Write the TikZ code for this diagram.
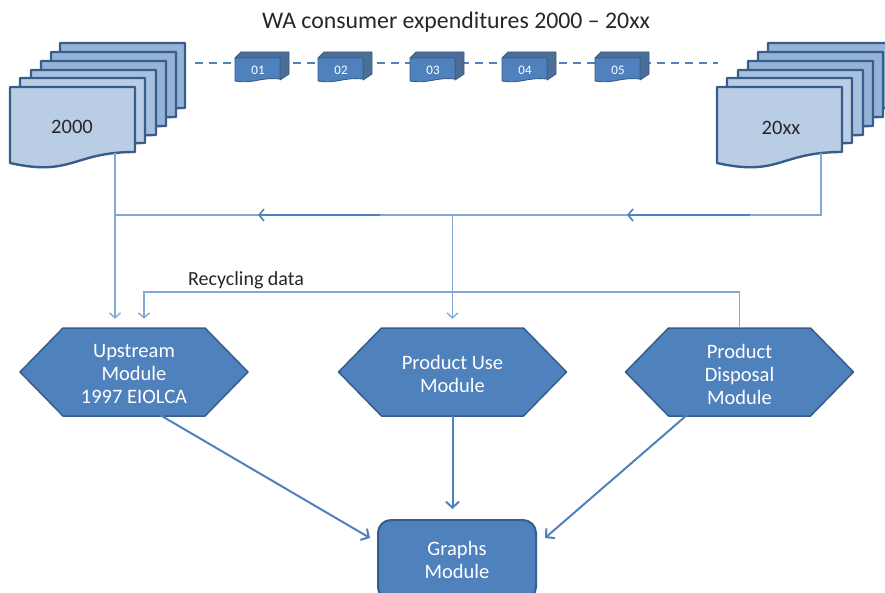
\documentclass[tikz,border=0pt]{standalone}
\usepackage{fontspec}
\setmainfont{Carlito}
\usetikzlibrary{arrows.meta}
\definecolor{docA}{HTML}{B9CDE5}
\definecolor{docB}{HTML}{A7C0DE}
\definecolor{docC}{HTML}{95B3D7}
\definecolor{edge}{HTML}{385D8A}
\definecolor{main}{HTML}{4F81BD}
\definecolor{thinc}{HTML}{86A7D6}
\tikzset{
  docbox/.style={draw=edge, line width=2.4pt, line join=round},
  hexbox/.style={draw=edge, fill=main, line width=1.5pt, line join=round},
  hexarea/.style={minimum width=228pt, minimum height=88pt, inner sep=0pt},
  hextext/.style={text=white, font=\fontsize{20.5}{23}\selectfont, align=center},
  doclabel/.style={font=\fontsize{20.5}{23}\selectfont, text=black!85},
  numlabel/.style={text=white, font=\fontsize{13}{14}\selectfont, inner sep=0pt},
  thinline/.style={draw=thinc, line width=1.4pt},
  flow/.style={thinline, -{Straight Barb[length=5pt,width=11pt,line width=1.4pt]}},
  midflow/.style={draw=main, line width=2pt, -{Straight Barb[length=5pt,width=12pt,line width=1.6pt]}},
  bigflow/.style={draw=main, line width=2pt, -{Straight Barb[length=6pt,width=13pt,line width=2pt]}},
  dashline/.style={draw=main, line width=1.6pt, dash pattern=on 8pt off 6pt},
  graphsbox/.style={draw=edge, fill=main, line width=2pt, rounded corners=13pt,
    minimum width=158pt, minimum height=80pt, text=white, align=center,
    font=\fontsize{20.5}{23}\selectfont},
}
\newcommand\docpage[3]{%
  \filldraw[docbox, fill=#3, shift={(#1,#2)}] (0,0) -- (125,0) -- (125,65)
    .. controls (62.5,65) and (62.5,90) .. (0,76) -- cycle;}
\newcommand\hexat[2]{%
  \filldraw[hexbox, shift={(#1,#2)}] (-114,0) -- (-71,-44) -- (71,-44) -- (114,0)
    -- (71,44) -- (-71,44) -- cycle;}
\newcommand\numbox[4]{%
  \begin{scope}[shift={(#1,#2)}]
    \filldraw[draw=edge, fill=edge!90, line width=0.9pt, line join=round]
      (0,0) -- (6,-6) -- (54,-6) -- (54,16) -- (45,22) -- (45,0) -- cycle;
    \filldraw[draw=edge, fill=main, line width=0.9pt, line join=round]
      (0,0) -- (45,0) -- (45,21) .. controls (24,19) and (20,26) .. (0,23) -- cycle;
    \node[numlabel] (#4) at (23,12) {#3};
  \end{scope}}
\begin{document}
\begin{tikzpicture}[x=1pt, y=-1pt]
  \useasboundingbox (0,0) rectangle (885,593);
  \clip (0,0) rectangle (885,593);
  % title
  \node[font=\fontsize{23.8}{27}\selectfont, text=black!85] (title) at (456,22)
    {WA consumer expenditures 2000 – 20xx};
  % dashed timeline
  \coordinate (dl) at (195,63);
  \coordinate (dr) at (718,63);
  \draw[dashline] (dl) -- (dr);
  \numbox{235}{58}{01}{b01}
  \numbox{318}{58}{02}{b02}
  \numbox{410}{58}{03}{b03}
  \numbox{502}{58}{04}{b04}
  \numbox{595}{58}{05}{b05}
  % left document stack
  \docpage{60}{43}{docC}
  \docpage{51}{52}{docC}
  \docpage{41}{61}{docC}
  \docpage{31}{70}{docB}
  \docpage{20}{78}{docA}
  \docpage{10}{87}{docA}
  \node[doclabel] (y2000) at (72,127) {2000};
  % right document stack
  \docpage{768}{43}{docC}
  \docpage{758}{52}{docC}
  \docpage{748}{61}{docC}
  \docpage{738}{70}{docB}
  \docpage{727}{78}{docA}
  \docpage{717}{87}{docA}
  \node[doclabel] (y20xx) at (781,128) {20xx};
  % hexagon modules
  \hexat{134}{372}
  \hexat{452.5}{372}
  \hexat{739.5}{372}
  \node[hexarea] (ups) at (134,372) {};
  \node[hexarea] (use) at (452.5,372) {};
  \node[hexarea] (disp) at (739.5,372) {};
  \node[hextext] (upst) at (134,374) {Upstream\\Module\\1997 EIOLCA};
  \node[hextext] (uset) at (452.5,374) {Product Use\\Module};
  \node[hextext] (dispt) at (739.5,374) {Product\\Disposal\\Module};
  % graphs module
  \node[graphsbox] (graphs) at (457,560) {Graphs\\Module};
  % connectors from the document stacks
  \coordinate (lout) at (115,153);
  \coordinate (rout) at (821,153);
  \coordinate (lj) at (115,215);
  \coordinate (rj) at (821,215);
  \coordinate (hub) at (452.5,215);
  \coordinate (m1s) at (380,215);
  \coordinate (m1e) at (258,215);
  \coordinate (m2s) at (750,215);
  \coordinate (m2e) at (627,215);
  \draw[thinline] (rout) -- (rj) -- (lj);
  \draw[midflow] (m1s) -- (m1e);
  \draw[midflow] (m2s) -- (m2e);
  \draw[flow, shorten >=9pt] (lout) -- (lout |- ups.north);
  \draw[flow, shorten >=9pt] (hub) -- (hub |- use.north);
  % recycling data loop
  \coordinate (recc) at (144,292);
  \draw[flow, shorten >=9pt] (disp.north) |- (recc) -- (recc |- ups.north);
  \node[anchor=base west, font=\fontsize{20}{22}\selectfont, text=black!85, inner sep=0pt]
    (reclbl) at (188,286) {Recycling data};
  % into graphs module
  \coordinate (upsout) at (160,415);
  \coordinate (dispout) at (687,415);
  \coordinate (gin1) at (370,538);
  \coordinate (gin3) at (545,538);
  \draw[bigflow] (upsout) -- (gin1);
  \draw[bigflow, shorten >=10pt] (use.south) -- (use.south |- graphs.north);
  \draw[bigflow] (dispout) -- (gin3);
\end{tikzpicture}
\end{document}
